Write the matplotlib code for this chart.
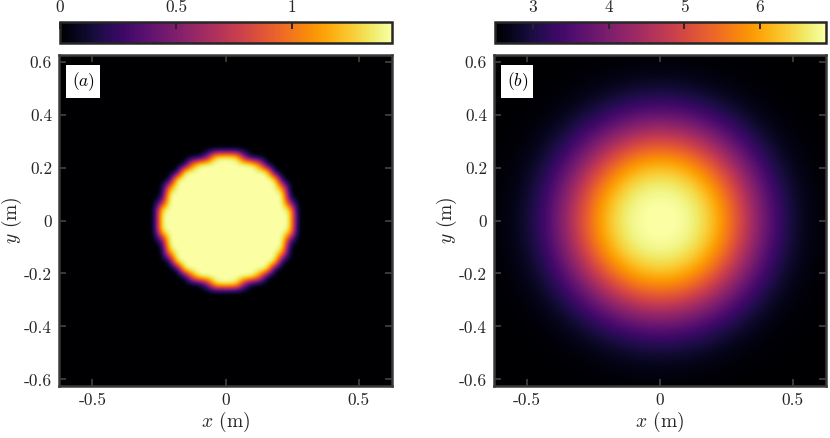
import numpy as np
import matplotlib
matplotlib.use("Agg")
import matplotlib.pyplot as plt

# ---------------- data ----------------
x_limits = [-0.625, 0.625]
y_limits = [-0.625, 0.625]
x_ticks = [-0.5, 0, 0.5]
x_ticklabels = ["-0.5", "0", "0.5"]
y_ticks = [-0.6, -0.4, -0.2, 0, 0.2, 0.4, 0.6]
y_ticklabels = ["-0.6", "-0.4", "-0.2", "0", "0.2", "0.4", "0.6"]

# panel (a): disk sampled on a coarse grid
grid_cells_a = 44
disk_value = 1.43
disk_background = 0.0
disk_radius = 0.25
disk_edge_width = 0.004
cbar_a_limits = [0.0, 1.43]
cbar_a_ticks = [0, 0.5, 1]
cbar_a_ticklabels = ["0", "0.5", "1"]

# panel (b): smooth radially symmetric bump
grid_cells_b = 241
b_floor = 2.5
b_peak = 6.87
b_width = 0.37
b_shape_exponent = 2.8
cbar_b_limits = [2.5, 6.87]
cbar_b_ticks = [3, 4, 5, 6]
cbar_b_ticklabels = ["3", "4", "5", "6"]

panel_labels = [r"$(a)$", r"$(b)$"]
xlabel = r"$x$ (m)"
ylabel = r"$y$ (m)"

# ---------------- build fields ----------------
h = (x_limits[1] - x_limits[0]) / grid_cells_a
xa = x_limits[0] + h * (np.arange(grid_cells_a) + 0.5)
XA, YA = np.meshgrid(xa, xa)
RA = np.hypot(XA, YA)
A = disk_background + (disk_value - disk_background) * 0.5 * (1 - np.tanh((RA - disk_radius) / disk_edge_width))

xb = np.linspace(x_limits[0], x_limits[1], grid_cells_b)
XB, YB = np.meshgrid(xb, xb)
RB = np.hypot(XB, YB)
B = b_floor + (b_peak - b_floor) * np.exp(-(RB / b_width) ** b_shape_exponent)

# ---------------- style ----------------
plt.rcParams["font.family"] = ["cmr10", "DejaVu Serif"]
plt.rcParams["mathtext.fontset"] = "cm"
plt.rcParams["axes.formatter.use_mathtext"] = True
text_color = "#262626"
spine_color = "#3a3a3a"
fs = 12.5
fs_label = 14

W, H = 830, 438
fig = plt.figure(figsize=(W / 100, H / 100), dpi=100)

def fr(x0, y0, x1, y1):
    return [x0 / W, 1 - y1 / H, (x1 - x0) / W, (y1 - y0) / H]

ax_pos = [fr(59, 55, 392, 386), fr(494, 55, 826, 386)]
cb_pos = [fr(60, 22, 392, 43), fr(495, 22, 826, 43)]
fields = [A, B]
interps = ["bicubic", "bilinear"]
clims = [cbar_a_limits, cbar_b_limits]
cticks = [cbar_a_ticks, cbar_b_ticks]
ctlabels = [cbar_a_ticklabels, cbar_b_ticklabels]

for k in range(2):
    ax = fig.add_axes(ax_pos[k])
    im = ax.imshow(fields[k], extent=[x_limits[0], x_limits[1], y_limits[0], y_limits[1]],
                   origin="lower", cmap="inferno", vmin=clims[k][0], vmax=clims[k][1],
                   interpolation=interps[k], interpolation_stage="data", aspect="auto")
    ax.set_xlim(x_limits)
    ax.set_ylim(y_limits)
    ax.set_xticks(x_ticks)
    ax.set_xticklabels(x_ticklabels)
    ax.set_yticks(y_ticks)
    ax.set_yticklabels(y_ticklabels)
    ax.tick_params(direction="in", length=5, width=1.4, color=spine_color,
                   top=True, right=True, labelsize=fs, labelcolor=text_color, pad=5)
    for s in ax.spines.values():
        s.set_color(spine_color)
        s.set_linewidth(1.8)
    ax.set_xlabel(xlabel, fontsize=fs_label, color=text_color, labelpad=1)
    ax.set_ylabel(ylabel, fontsize=fs_label, color=text_color, labelpad=0)
    ax.text(0.038, 0.955, panel_labels[k], transform=ax.transAxes, ha="left", va="top",
            fontsize=fs, color="black",
            bbox=dict(facecolor="white", edgecolor="none", boxstyle="square,pad=0.3"))

    cax = fig.add_axes(cb_pos[k])
    cb = fig.colorbar(im, cax=cax, orientation="horizontal")
    cb.set_ticks(cticks[k])
    cb.set_ticklabels(ctlabels[k])
    cax.xaxis.set_ticks_position("top")
    cax.xaxis.set_label_position("top")
    cax.tick_params(direction="in", length=5, width=1.4, color="#262626",
                    labelsize=fs, labelcolor=text_color, pad=5)
    cb.outline.set_edgecolor("#262626")
    cb.outline.set_linewidth(1.8)

fig.savefig("out.png", dpi=100)
